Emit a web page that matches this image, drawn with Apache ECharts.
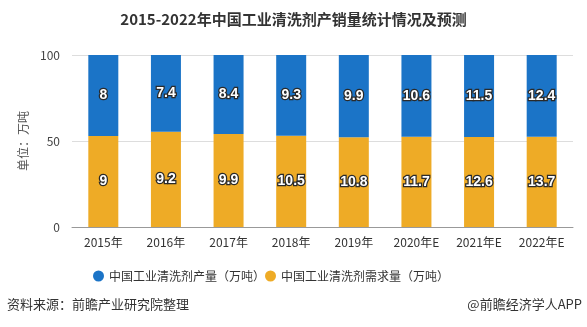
<!DOCTYPE html>
<html><head><meta charset="utf-8">
<script src="https://cdn.jsdelivr.net/npm/echarts@6/dist/echarts.min.js"></script>
<style>html,body{margin:0;padding:0;background:#fff}#c{width:587px;height:327px}</style>
</head><body><div id="c"></div>
<script>
const categories = ['2015年','2016年','2017年','2018年','2019年','2020年E','2021年E','2022年E'];
const production = [8, 7.4, 8.4, 9.3, 9.9, 10.6, 11.5, 12.4];
const demand = [9, 9.2, 9.9, 10.5, 10.8, 11.7, 12.6, 13.7];
const seriesNames = ['中国工业清洗剂产量（万吨）', '中国工业清洗剂需求量（万吨）'];
const yTicks = [0, 50, 100];

const totals = production.map((p, i) => p + demand[i]);
const pct = (arr) => arr.map((v, i) => ({ value: v / totals[i] * 100, raw: v }));

const font = '"Noto Sans CJK SC", "Microsoft YaHei", sans-serif';
const labelStyle = {
  show: true, position: 'inside', color: '#fff', fontWeight: 'bold', fontSize: 14,
  fontFamily: 'Arial, "Liberation Sans", sans-serif',
  textBorderColor: '#2a2a2a', textBorderWidth: 2.5,
  formatter: (p) => p.data.raw
};
const chart = echarts.init(document.getElementById('c'));
chart.setOption({
  animation: false,
  textStyle: { fontFamily: font },
  title: {
    text: '2015-2022年中国工业清洗剂产销量统计情况及预测',
    left: 'center', top: 7,
    textStyle: { fontSize: 15, fontWeight: 'bold', color: '#333', fontFamily: font }
  },
  grid: { left: 72, right: 14, top: 55, bottom: 100 },
  legend: {
    top: 265, left: 88, icon: 'circle', itemWidth: 11, itemHeight: 11, itemGap: 0,
    textStyle: { fontSize: 12, color: '#333', fontFamily: font },
    data: [seriesNames[0], seriesNames[1]]
  },
  xAxis: {
    type: 'category', data: categories,
    axisLine: { lineStyle: { color: '#999' } },
    axisTick: { alignWithLabel: true, lineStyle: { color: '#999' } },
    axisLabel: { color: '#333', fontSize: 12, margin: 9 }
  },
  yAxis: {
    type: 'value', min: 0, max: 100, interval: 50,
    name: '单位：万吨', nameLocation: 'middle', nameGap: 43, nameRotate: 90,
    nameTextStyle: { color: '#555', fontSize: 12 },
    axisLine: { show: false }, axisTick: { show: false },
    axisLabel: { color: '#444', fontSize: 12, margin: 12, formatter: (v) => yTicks.includes(v) ? v : '' },
    splitLine: { lineStyle: { color: '#ddd' } }
  },
  series: [
    { name: seriesNames[1], type: 'bar', stack: 's', barWidth: 30, data: pct(demand),
      itemStyle: { color: '#eeab26' }, label: labelStyle },
    { name: seriesNames[0], type: 'bar', stack: 's', barWidth: 30, data: pct(production),
      itemStyle: { color: '#1b74c7' }, label: labelStyle }
  ],
  graphic: [
    { type: 'text', left: 7, top: 298, style: { text: '资料来源：前瞻产业研究院整理', fill: '#333', font: '13px ' + font } },
    { type: 'text', right: 5, top: 298, style: { text: '@前瞻经济学人APP', fill: '#333', font: '13px ' + font } }
  ]
});
</script></body></html>
